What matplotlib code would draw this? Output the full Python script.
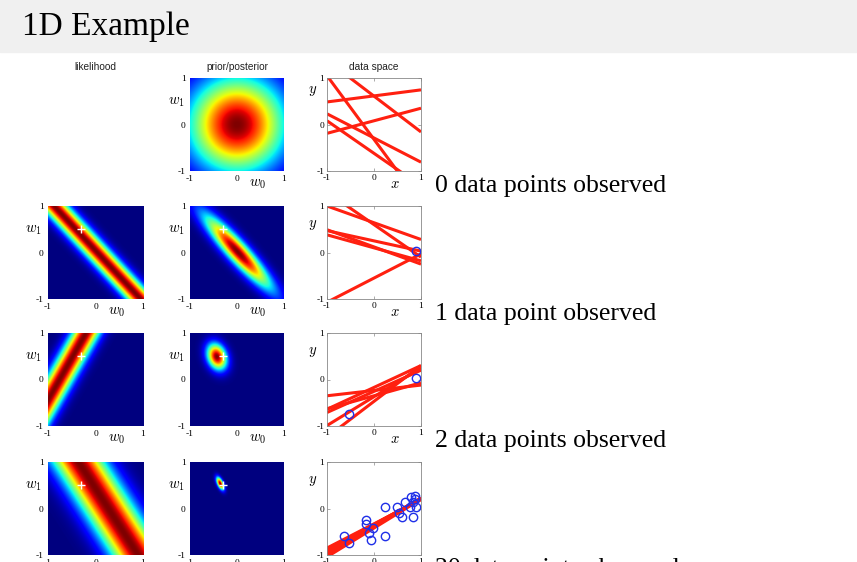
import numpy as np
import matplotlib.pyplot as plt
from matplotlib.patches import Rectangle

plt.rcParams['mathtext.fontset'] = 'cm'

W, H = 857, 562
alpha, beta = 2.0, 25.0
true_w0, true_w1 = -0.3, 0.5

# observed points (x, t), in the order they arrive
obs_x = [0.90, -0.53, -0.64, -0.18, -0.18, -0.02, -0.11, -0.07, 0.23, 0.24,
         0.48, 0.54, 0.60, 0.65, 0.78, 0.88, 0.83, 0.77, 0.84, 0.87]
obs_t = [0.03, -0.74, -0.60, -0.25, -0.33, -0.42, -0.53, -0.68, 0.03, -0.60,
         0.04, -0.09, -0.19, 0.14, 0.24, 0.26, 0.15, 0.04, -0.19, 0.21]
n_seen = [0, 1, 2, 20]

# point behind the likelihood panel of each row, and the band's noise level
lik_x = [None, 0.90, -0.55, 0.62]
lik_t = [None, 0.03, -0.76, 0.26]
lik_sd = [None, 0.2, 0.2, 0.38]

# sampled lines y = w0 + w1 x shown in data space
samp_w0 = [[-0.32, 0.61, 0.615, 0.08, -0.29, -0.62],
           [0.64, 0.60, 0.12, 0.10, 0.25, -0.55],
           [-0.235, -0.17, -0.255, -0.37, -0.47, -0.35],
           [-0.34, -0.36, -0.38, -0.33, -0.42, -0.35]]
samp_w1 = [[-1.37, -0.77, 0.13, 0.27, -0.52, -0.70],
           [-0.36, -0.70, -0.37, -0.28, -0.22, 0.52],
           [0.115, 0.47, 0.455, 0.62, 0.77, 0.28],
           [0.55, 0.58, 0.60, 0.52, 0.62, 0.57]]

row_labels = ['0 data points observed', '1 data point observed',
              '2 data points observed', '20 data points observed']
col_titles = ['likelihood', 'prior/posterior', 'data space']

col_left = [48, 190, 327]
col_w = [95, 94, 94]
row_top = [78, 206, 333, 462]
ax_h = 93

g = np.linspace(-1, 1, 300)
G0, G1 = np.meshgrid(g, g)

fig = plt.figure(figsize=(W / 100, H / 100), dpi=100)
fig.patches.append(Rectangle((0, 1 - 52 / H), 1, 52 / H, transform=fig.transFigure,
                             color='#f0f0f0', zorder=0))
fig.text(22 / W, 1 - 35 / H, '1D Example', fontsize=24, family='Liberation Serif',
         va='baseline')


def px_axes(left, top, w, h):
    return fig.add_axes([left / W, 1 - (top + h) / H, w / W, h / H])


def style(ax, xl, yl, yl_y, frame):
    ax.set_xlim(-1, 1)
    ax.set_ylim(-1, 1)
    ax.set_xticks([-1, 0, 1])
    ax.set_yticks([-1, 0, 1])
    ax.set_xticklabels(['-1', '0', '1'], family='Liberation Serif', fontsize=6.8)
    ax.set_yticklabels(['-1', '0', '1'], family='Liberation Serif', fontsize=6.8)
    if frame:
        ax.tick_params(direction='in', length=2, width=0.5, color='#888888',
                       top=True, right=True, pad=2)
        for s in ax.spines.values():
            s.set_color('#888888')
            s.set_linewidth(0.6)
    else:
        ax.tick_params(length=0, pad=3)
        for s in ax.spines.values():
            s.set_visible(False)
    ax.text(-0.15, yl_y, yl, transform=ax.transAxes, fontsize=10.5, ha='center', va='center')
    ax.text(0.72, -0.13, xl, transform=ax.transAxes, fontsize=10.5, ha='center', va='center')


for r in range(4):
    top = row_top[r]
    # likelihood
    if lik_x[r] is not None:
        ax = px_axes(col_left[0], top, col_w[0], ax_h)
        L = np.exp(-0.5 * (lik_t[r] - G0 - G1 * lik_x[r]) ** 2 / lik_sd[r] ** 2)
        ax.imshow(L, extent=[-1, 1, -1, 1], origin='lower', cmap='jet', aspect='auto',
                  vmin=0, vmax=L.max())
        ax.plot(true_w0, true_w1, '+', color='white', ms=6, mew=1)
        style(ax, '$w_0$', '$w_1$', 0.75, False)

    # prior / posterior
    n = n_seen[r]
    X = np.array(obs_x[:n])
    T = np.array(obs_t[:n])
    Phi = np.column_stack([np.ones(n), X])
    S_inv = alpha * np.eye(2) + beta * Phi.T @ Phi
    m = beta * np.linalg.solve(S_inv, Phi.T @ T) if n else np.zeros(2)
    d0, d1 = G0 - m[0], G1 - m[1]
    P = np.exp(-0.5 * (S_inv[0, 0] * d0 ** 2 + 2 * S_inv[0, 1] * d0 * d1 + S_inv[1, 1] * d1 ** 2))
    ax = px_axes(col_left[1], top, col_w[1], ax_h)
    ax.imshow(P, extent=[-1, 1, -1, 1], origin='lower', cmap='jet', aspect='auto',
              vmin=0, vmax=P.max())
    if n:
        ax.plot(true_w0, true_w1, '+', color='white', ms=6, mew=1)
    style(ax, '$w_0$', '$w_1$', 0.75, False)

    # data space
    ax = px_axes(col_left[2], top, col_w[2], ax_h)
    xs = np.array([-1.0, 1.0])
    for w0, w1 in zip(samp_w0[r], samp_w1[r]):
        ax.plot(xs, w0 + w1 * xs, color='#ff2010', lw=2.2, solid_capstyle='butt')
    if n:
        ax.plot(obs_x[:n], obs_t[:n], 'o', mfc='none', mec='#1f2fe8', ms=6, mew=1)
    style(ax, '$x$', '$y$', 0.87 if r == 0 else 0.8, True)

    fig.text(435 / W, 1 - (192 + 127.6 * r) / H, row_labels[r], fontsize=18.5,
             family='Liberation Serif', va='baseline')

for c in range(3):
    fig.text((col_left[c] + col_w[c] / 2) / W, 1 - 67 / H, col_titles[c], fontsize=7.3,
             family='Liberation Sans', ha='center', va='center', color='#222222')

fig.savefig('out.png', dpi=100)
